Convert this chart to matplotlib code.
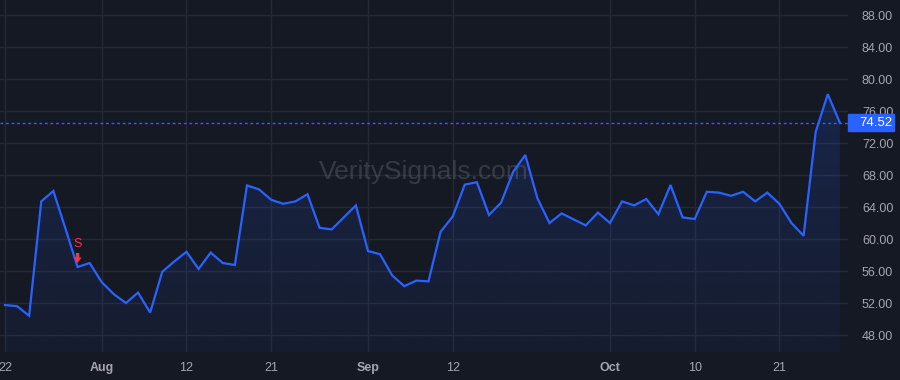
import matplotlib.pyplot as plt
import matplotlib.transforms as mtransforms
from matplotlib.colors import to_rgb
from matplotlib.patches import Rectangle
import numpy as np
import pandas as pd

# trading days Jul 22 - Oct 28 2024 (Labor Day closed)
dates = pd.bdate_range('2024-07-22', '2024-10-28').drop(pd.Timestamp('2024-09-02'))
values = [
    51.75, 51.6, 50.4, 64.7, 66.0, 61.3, 56.5, 57.0, 54.6, 53.1,
    52.0, 53.3, 50.8, 55.9, 57.2, 58.4, 56.25, 58.3, 57.0, 56.75,
    66.7, 66.2, 64.9, 64.4, 64.7, 65.6, 61.4, 61.2, 62.7, 64.2,
    58.5, 58.1, 55.45, 54.1, 54.8, 54.7, 60.9, 62.8, 66.8, 67.1,
    63.0, 64.55, 68.4, 70.5, 65.1, 62.0, 63.2, 62.45, 61.7, 63.3,
    62.0, 64.7, 64.2, 65.0, 63.1, 66.75, 62.7, 62.5, 65.9, 65.8,
    65.4, 65.9, 64.7, 65.8, 64.4, 62.0, 60.4, 73.4, 78.1, 74.52,
]
tick_dates = ['2024-07-22', '2024-08-01', '2024-08-12', '2024-08-21', '2024-09-03',
              '2024-09-12', '2024-10-01', '2024-10-10', '2024-10-21']
tick_labels = ['22', 'Aug', '12', '21', 'Sep', '12', 'Oct', '10', '21']
month_labels = ['Aug', 'Sep', 'Oct']
y_ticks = [48, 52, 56, 60, 64, 68, 72, 76, 80, 84, 88]
last_price = 74.52
signal_date = '2024-07-30'
signal_text = 'S'
watermark = 'VeritySignals.com'

bg = '#151924'
grid_c = '#242935'
line_c = '#2962ff'
label_c = '#a3a6af'
red = '#f23645'

plt.rcParams['font.family'] = ['Liberation Sans', 'DejaVu Sans']

x = np.arange(len(values))
ylo, yhi = 45.875, 89.875

fig = plt.figure(figsize=(9, 3.8), dpi=100, facecolor=bg)
ax = fig.add_axes([0, 1 - 352 / 380, 848 / 900, 352 / 380])
ax.set_facecolor(bg)

# gradient area under the line
fill = ax.fill_between(x, values, ylo, color='none', lw=0)
grad = np.zeros((256, 1, 4))
grad[..., :3] = to_rgb(line_c)
grad[:, 0, 3] = np.linspace(0.17, 0.05, 256)
im = ax.imshow(grad, extent=[x[0], x[-1], ylo, max(values)], aspect='auto',
               origin='upper', zorder=1, interpolation='bilinear')
im.set_clip_path(fill.get_paths()[0], transform=ax.transData)

ax.plot(x, values, color=line_c, lw=1.6, zorder=3, solid_joinstyle='miter')
ax.axhline(last_price, color=line_c, lw=1, ls=(0, (2, 2)), zorder=2)

# sell signal marker
si = dates.get_loc(pd.Timestamp(signal_date))
sv = values[si]
ax.annotate('', xy=(si, sv + 0.5), xytext=(si, sv + 1.75),
            arrowprops=dict(arrowstyle='simple,head_width=0.6,head_length=0.4,tail_width=0.25',
                            color=red, lw=0, shrinkA=0, shrinkB=0), zorder=4)
ax.text(si, sv + 2.9, signal_text, color=red, fontsize=9, ha='center', va='center', zorder=4)

ax.text(0.5, 0.51, watermark, transform=ax.transAxes, ha='center', va='center',
        fontsize=19, color='#7a7d87', alpha=0.33, zorder=2)

tick_pos = [dates.get_loc(pd.Timestamp(d)) for d in tick_dates]
ax.set_xticks(tick_pos)
ax.set_xticklabels(tick_labels)
for t in ax.get_xticklabels():
    if t.get_text() in month_labels:
        t.set_fontweight('bold')
ax.yaxis.tick_right()
ax.set_yticks(y_ticks)
ax.set_yticklabels([f'{v:.2f}' for v in y_ticks])
ax.tick_params(axis='both', length=0, labelsize=9, labelcolor=label_c)
ax.tick_params(axis='y', pad=10)
ax.tick_params(axis='x', pad=7)
ax.grid(True, color=grid_c, lw=1)
ax.set_axisbelow(True)
for s in ax.spines.values():
    s.set_visible(False)

ax.set_xlim(-0.41, 69.67)
ax.set_ylim(ylo, yhi)

# last price tag
trans = mtransforms.blended_transform_factory(ax.transAxes, ax.transData)
ax.add_patch(Rectangle((1.0, last_price - 1.05), 46 / 848, 2.1, transform=trans,
                       color=line_c, clip_on=False, zorder=5))
ax.text(1 + 11 / 848, last_price, f'{last_price:.2f}', transform=trans, color='white',
        fontsize=9.5, ha='left', va='center', zorder=6, clip_on=False)

fig.savefig('out.png', dpi=100, facecolor=bg)
